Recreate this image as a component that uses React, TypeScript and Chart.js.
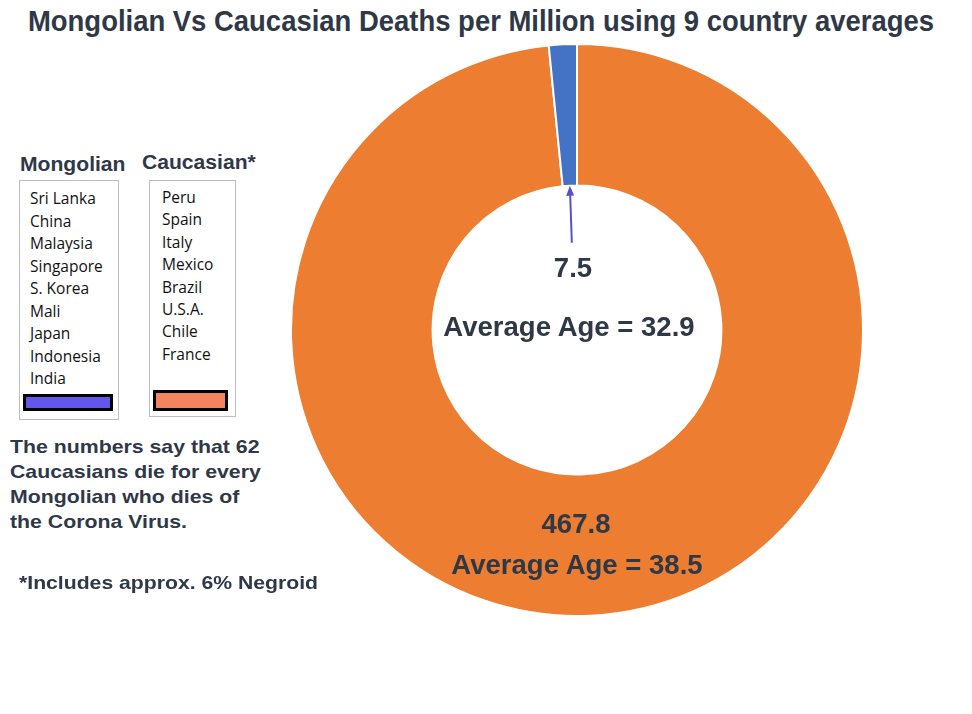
import React, { useEffect, useRef } from "react";
import { Chart, registerables } from "chart.js";

Chart.register(...registerables);

// Ring segments, drawn clockwise from the top
const groups = ["Caucasian*", "Mongolian"];
const deathsPerMillion = [467.8, 7.5];
const averageAge = [38.5, 32.9];
const ringColors = ["#ED7D31", "#4472C4"];

const mongolianCountries = [
  "Sri Lanka", "China", "Malaysia", "Singapore", "S. Korea",
  "Mali", "Japan", "Indonesia", "India",
];
const caucasianCountries = [
  "Peru", "Spain", "Italy", "Mexico", "Brazil", "U.S.A.", "Chile", "France",
];

const TEXT = "#2F3847";
const ARROW = "#5A4FC8";
const SANS = "'Liberation Sans', Arial, sans-serif";
const LIST_FONT = "'Open Sans', 'Noto Sans', sans-serif";

// Ring geometry on the page
const CX = 577;
const CY = 330;
const R = 287;

// Arrow from the small segment's inner edge down toward its value label
const arrowPlugin = {
  id: "smallSliceArrow",
  afterDatasetsDraw(chart: any) {
    const meta = chart.getDatasetMeta(0);
    const arc = meta.data[1];
    if (!arc) return;
    const { x, y, startAngle, endAngle, innerRadius } = arc.getProps(
      ["x", "y", "startAngle", "endAngle", "innerRadius"],
      true
    );
    const mid = (startAngle + endAngle) / 2;
    const tipX = x + Math.cos(mid) * innerRadius;
    const tipY = y + Math.sin(mid) * innerRadius;
    const tailX = tipX + 2;
    const tailY = tipY + 57;
    const ctx = chart.ctx;
    ctx.save();
    ctx.strokeStyle = ARROW;
    ctx.fillStyle = ARROW;
    ctx.lineWidth = 2;
    ctx.beginPath();
    ctx.moveTo(tailX, tailY);
    ctx.lineTo(tipX + 0.3, tipY + 8);
    ctx.stroke();
    const ang = Math.atan2(tipY - tailY, tipX - tailX);
    const len = 10;
    const half = 4;
    ctx.beginPath();
    ctx.moveTo(tipX, tipY);
    ctx.lineTo(
      tipX - len * Math.cos(ang) + half * Math.sin(ang),
      tipY - len * Math.sin(ang) - half * Math.cos(ang)
    );
    ctx.lineTo(
      tipX - len * Math.cos(ang) - half * Math.sin(ang),
      tipY - len * Math.sin(ang) + half * Math.cos(ang)
    );
    ctx.closePath();
    ctx.fill();
    ctx.restore();
  },
};

function abs(left: number, top: number, extra: React.CSSProperties = {}): React.CSSProperties {
  return { position: "absolute", left, top, margin: 0, whiteSpace: "nowrap", ...extra };
}

export default function App() {
  const canvasRef = useRef<HTMLCanvasElement>(null);

  useEffect(() => {
    if (!canvasRef.current) return;
    const chart = new Chart(canvasRef.current, {
      type: "doughnut",
      data: {
        labels: groups,
        datasets: [
          {
            data: deathsPerMillion,
            backgroundColor: ringColors,
            borderColor: "#FFFFFF",
            borderWidth: 2,
          },
        ],
      },
      options: {
        responsive: false,
        animation: false,
        cutout: "50.5%",
        layout: { padding: 0 },
        plugins: {
          legend: { display: false },
          tooltip: { enabled: false },
        },
      },
      plugins: [arrowPlugin],
    });
    return () => chart.destroy();
  }, []);

  const centerLabel = (cx: number, top: number, text: string) => (
    <div
      style={abs(cx - 200, top, {
        width: 400,
        textAlign: "center",
        font: `bold 27px ${SANS}`,
        color: TEXT,
        lineHeight: "30px",
        transform: "scaleX(1.02)",
        transformOrigin: "center",
      })}
    >
      {text}
    </div>
  );

  const headerStyle = (left: number, top: number) =>
    abs(left, top, {
      font: `bold 20px ${SANS}`,
      color: TEXT,
      lineHeight: "24px",
      transform: "scaleX(1.055)",
      transformOrigin: "left",
    });

  return (
    <div
      style={{
        position: "fixed",
        left: 0,
        top: 0,
        width: 972,
        height: 714,
        background: "#FFFFFF",
        overflow: "hidden",
      }}
    >
      <div
        style={abs(-119, 4, {
          width: 1200,
          textAlign: "center",
          font: `bold 30px ${SANS}`,
          color: TEXT,
          lineHeight: "34px",
          transform: "scaleX(0.915)",
          transformOrigin: "center",
        })}
      >
        Mongolian Vs Caucasian Deaths per Million using 9 country averages
      </div>

      <canvas
        ref={canvasRef}
        width={R * 2}
        height={R * 2}
        style={{ position: "absolute", left: CX - R, top: CY - R }}
      />

      {centerLabel(573, 253, String(deathsPerMillion[1]))}
      {centerLabel(569, 312, `Average Age = ${averageAge[1]}`)}
      {centerLabel(576, 509, String(deathsPerMillion[0]))}
      {centerLabel(577, 550, `Average Age = ${averageAge[0]}`)}

      <div style={headerStyle(20, 152)}>{groups[1]}</div>
      <div style={headerStyle(142, 150)}>{groups[0]}</div>

      <div
        style={abs(19, 180, {
          width: 100,
          height: 240,
          border: "1px solid #BDBDBD",
          boxSizing: "border-box",
        })}
      />
      <div
        style={abs(149, 180, {
          width: 87,
          height: 237,
          border: "1px solid #BDBDBD",
          boxSizing: "border-box",
        })}
      />

      {mongolianCountries.map((c, i) => (
        <div
          key={c}
          style={abs(30, 187 + i * 22.5, {
            font: `15.5px ${LIST_FONT}`,
            color: "#111111",
            lineHeight: "22px",
          })}
        >
          {c}
        </div>
      ))}
      {caucasianCountries.map((c, i) => (
        <div
          key={c}
          style={abs(162, 186 + i * 22.4, {
            font: `15.5px ${LIST_FONT}`,
            color: "#111111",
            lineHeight: "22px",
          })}
        >
          {c}
        </div>
      ))}

      <div
        style={abs(23, 394, {
          width: 90,
          height: 17,
          background: "#6455EC",
          border: "3px solid #000000",
          boxSizing: "border-box",
        })}
      />
      <div
        style={abs(153, 390, {
          width: 75,
          height: 21,
          background: "#F4845F",
          border: "3px solid #000000",
          boxSizing: "border-box",
        })}
      />

      <div
        style={abs(10, 434, {
          font: `bold 19px ${SANS}`,
          color: TEXT,
          lineHeight: "25px",
          transform: "scaleX(1.12)",
          transformOrigin: "left",
        })}
      >
        The numbers say that 62
        <br />
        Caucasians die for every
        <br />
        Mongolian who dies of
        <br />
        the Corona Virus.
      </div>

      <div
        style={abs(19, 571, {
          font: `bold 19px ${SANS}`,
          color: TEXT,
          lineHeight: "24px",
          transform: "scaleX(1.115)",
          transformOrigin: "left",
        })}
      >
        *Includes approx. 6% Negroid
      </div>
    </div>
  );
}
